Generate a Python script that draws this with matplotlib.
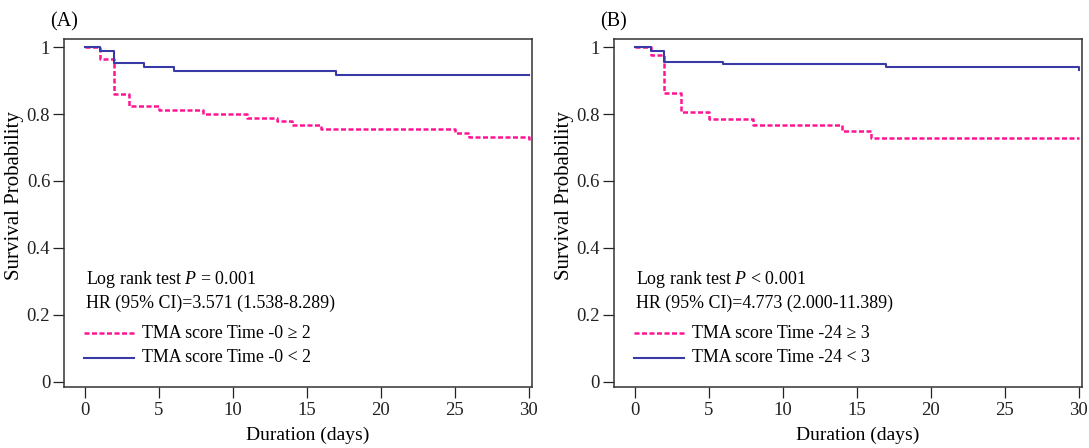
import matplotlib

matplotlib.use("Agg")
import matplotlib.pyplot as plt

plt.rcParams["font.family"] = ["Liberation Serif", "DejaVu Serif"]
plt.rcParams["mathtext.fontset"] = "custom"
plt.rcParams["mathtext.it"] = "Liberation Serif:italic"
plt.rcParams["mathtext.rm"] = "Liberation Serif"

# Kaplan-Meier step curves (day, survival)
a_high_t = [0, 1, 2, 3, 5, 8, 11, 13, 14, 16, 25, 26, 30]
a_high_s = [1.0, 0.963, 0.860, 0.825, 0.813, 0.801, 0.789, 0.778, 0.766, 0.754, 0.742, 0.730, 0.722]
a_low_t = [0, 1, 2, 4, 6, 17, 30]
a_low_s = [1.0, 0.988, 0.951, 0.939, 0.927, 0.915, 0.915]

b_high_t = [0, 1.1, 2, 3.1, 5, 8, 14, 16, 30]
b_high_s = [1.0, 0.977, 0.862, 0.806, 0.786, 0.766, 0.749, 0.729, 0.729]
b_low_t = [0, 1.1, 2, 6, 17, 30]
b_low_s = [1.0, 0.987, 0.955, 0.949, 0.941, 0.932]

panels = [
    ("(A)", a_high_t, a_high_s, a_low_t, a_low_s,
     "Log rank test $P$ = 0.001", "HR (95% CI)=3.571 (1.538-8.289)",
     "TMA score Time -0 \u2265 2", "TMA score Time -0 < 2"),
    ("(B)", b_high_t, b_high_s, b_low_t, b_low_s,
     "Log rank test $P$ < 0.001", "HR (95% CI)=4.773 (2.000-11.389)",
     "TMA score Time -24 \u2265 3", "TMA score Time -24 < 3"),
]

PINK = "#ff1493"
BLUE = "#3a3aa6"
DASH = (0, (2.0, 1.0))
x_ticks = [0, 5, 10, 15, 20, 25, 30]
y_ticks = [0, 0.2, 0.4, 0.6, 0.8, 1.0]
y_labels = ["0", "0.2", "0.4", "0.6", "0.8", "1"]

fig = plt.figure(figsize=(10.89, 4.48), dpi=100)
lefts = [0.0588, 0.5638]
for left, (tag, ht, hs, lt, ls, t1, t2, lab_hi, lab_lo) in zip(lefts, panels):
    ax = fig.add_axes([left, 0.1362, 0.4300, 0.7768])
    ax.plot(ht, hs, drawstyle="steps-post", color=PINK, lw=1.8, linestyle=DASH)
    ax.plot(lt, ls, drawstyle="steps-post", color=BLUE, lw=1.5)
    ax.set_xlim(-1.4, 30.25)
    ax.set_ylim(-0.015, 1.024)
    ax.set_xticks(x_ticks)
    ax.set_yticks(y_ticks)
    ax.set_yticklabels(y_labels)
    ax.tick_params(direction="out", length=8, width=0.9, labelsize=13.5,
                   colors="#222222", pad=3)
    ax.tick_params(axis="y", pad=2)
    for sp in ax.spines.values():
        sp.set_linewidth(1.1)
        sp.set_color("#333333")
    ax.set_xlabel("Duration (days)", fontsize=14)
    ax.xaxis.set_label_coords(0.52, -0.115)
    ax.set_ylabel("Survival Probability", fontsize=15)
    ax.yaxis.set_label_coords(-0.086, 0.55)
    ax.text(-0.03, 1.049, tag, transform=ax.transAxes, fontsize=14.5,
            ha="left", va="center")

    # statistics block and key, placed in data units like the original
    ax.text(0.1, 0.307, t1, fontsize=12.9, va="center")
    ax.text(0.1, 0.236, t2, fontsize=12.9, va="center")
    ax.plot([-0.05, 3.3], [0.146, 0.146], color=PINK, lw=1.8, linestyle=DASH)
    ax.plot([-0.05, 3.3], [0.072, 0.072], color=BLUE, lw=1.5)
    ax.text(3.9, 0.146, lab_hi, fontsize=12.9, va="center")
    ax.text(3.9, 0.072, lab_lo, fontsize=12.9, va="center")

fig.savefig("out.png", dpi=100)
plt.close(fig)
